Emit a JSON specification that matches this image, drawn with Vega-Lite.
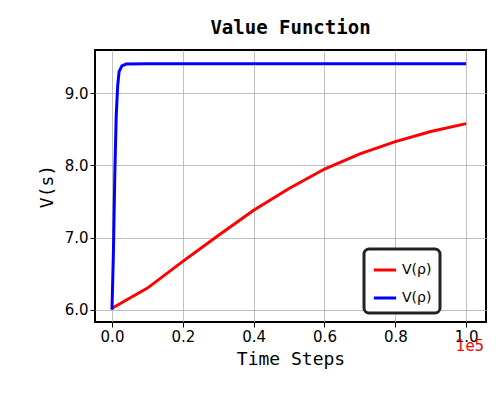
{
  "$schema": "https://vega.github.io/schema/vega-lite/v6.json",
  "width": 391,
  "height": 272,
  "autosize": "none",
  "padding": {"left": 95, "top": 50, "right": 14, "bottom": 78},
  "background": "white",
  "title": {"text": "Value Function", "font": "DejaVu Sans Mono", "fontSize": 19, "fontWeight": "bold", "offset": 12, "color": "black"},
  "config": {
    "view": {"stroke": "black", "strokeWidth": 2},
    "axis": {"grid": true, "gridColor": "#b0b0b0", "gridWidth": 0.8, "domain": false, "tickColor": "black", "tickSize": 5, "labelFont": "DejaVu Sans", "labelFontSize": 15, "labelColor": "black", "titleFont": "DejaVu Sans Mono", "titleFontSize": 18, "titleFontWeight": "normal", "titleColor": "black"}
  },
  "data": {"values": [
    {"t": 0, "v": 6.02, "s": "a"}, {"t": 0.1, "v": 6.3, "s": "a"}, {"t": 0.2, "v": 6.67, "s": "a"},
    {"t": 0.3, "v": 7.03, "s": "a"}, {"t": 0.4, "v": 7.38, "s": "a"}, {"t": 0.5, "v": 7.68, "s": "a"},
    {"t": 0.6, "v": 7.95, "s": "a"}, {"t": 0.7, "v": 8.16, "s": "a"}, {"t": 0.8, "v": 8.33, "s": "a"},
    {"t": 0.9, "v": 8.47, "s": "a"}, {"t": 1.0, "v": 8.58, "s": "a"},
    {"t": 0, "v": 6.0, "s": "b"}, {"t": 0.004, "v": 6.8, "s": "b"}, {"t": 0.008, "v": 7.9, "s": "b"},
    {"t": 0.012, "v": 8.7, "s": "b"}, {"t": 0.016, "v": 9.1, "s": "b"}, {"t": 0.02, "v": 9.3, "s": "b"},
    {"t": 0.028, "v": 9.38, "s": "b"}, {"t": 0.04, "v": 9.405, "s": "b"}, {"t": 0.1, "v": 9.41, "s": "b"},
    {"t": 1.0, "v": 9.41, "s": "b"}
  ]},
  "layer": [
    {
      "mark": {"type": "line", "strokeWidth": 3, "clip": true},
      "encoding": {
        "x": {"field": "t", "type": "quantitative", "scale": {"domain": [-0.048, 1.056], "nice": false, "zero": false}, "axis": {"values": [0, 0.2, 0.4, 0.6, 0.8, 1.0], "format": ".1f", "title": "Time Steps", "titlePadding": 6}},
        "y": {"field": "v", "type": "quantitative", "scale": {"domain": [5.83, 9.6], "nice": false, "zero": false}, "axis": {"values": [6, 6.5, 7, 7.5, 8, 8.5, 9, 9.5], "format": ".1f", "title": "V(s)", "titlePadding": 8}},
        "color": {"field": "s", "type": "nominal", "scale": {"domain": ["a", "b"], "range": ["red", "blue"]},
          "legend": {"title": null, "orient": "none", "legendX": 269, "legendY": 199, "labelExpr": "'V(ρ)'", "labelFont": "DejaVu Sans", "labelFontSize": 14, "symbolType": "stroke", "symbolStrokeWidth": 3, "symbolSize": 500, "strokeColor": "#222", "cornerRadius": 5, "padding": 8, "fillColor": "white", "rowPadding": 8,
            "encode": {"legend": {"update": {"strokeWidth": {"value": 3}}}}}}
      }
    },
    {
      "data": {"values": [{"t": 1.0, "v": 5.5, "label": "1e5"}]},
      "mark": {"type": "text", "color": "red", "fontSize": 15, "font": "DejaVu Sans", "align": "right", "dx": 18},
      "encoding": {
        "x": {"field": "t", "type": "quantitative"},
        "y": {"field": "v", "type": "quantitative"},
        "text": {"field": "label"}
      }
    }
  ]
}
